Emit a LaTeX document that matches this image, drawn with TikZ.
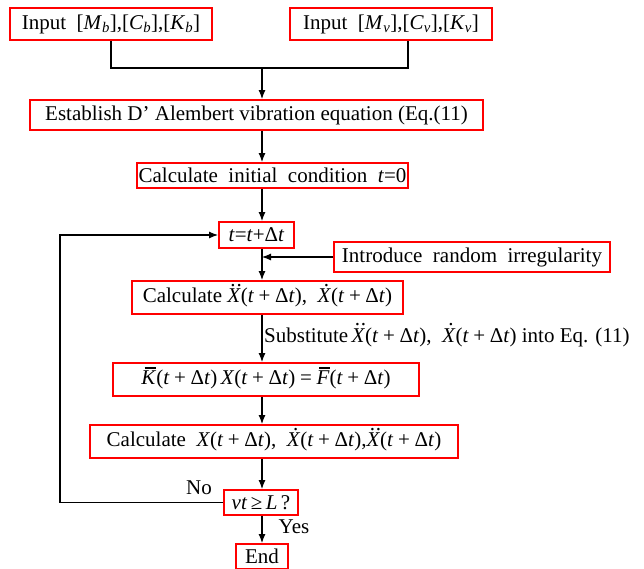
\documentclass[tikz,border=0pt]{standalone}
\usepackage{fontspec}
\setmainfont{Liberation Serif}
\usetikzlibrary{arrows.meta,positioning}
\newcommand{\vi}[1]{\textit{#1}}
\newcommand{\tdt}{(\vi{t}\kern0.22em+\kern0.22emΔ\vi{t})}
\newcommand{\markX}[1]{\ooalign{\vi{X}\cr\hidewidth\kern0.2em\raisebox{0.78em}{#1}\hidewidth\cr}}
\newcommand{\ddX}{\markX{.\kern0.04em.}}
\newcommand{\dX}{\markX{.}}
\newcommand{\barred}[1]{\ooalign{\vi{#1}\cr\hidewidth\kern0.15em\raisebox{0.76em}{\rule{0.55em}{0.06em}}\hidewidth\cr}}

\begin{document}
\begin{tikzpicture}[x=1pt, y=-1pt, >={Latex[length=9pt,width=7pt]},
  box/.style={draw=red, line width=2pt, inner sep=2pt, font=\fontsize{21}{24}\selectfont},
  lbl/.style={inner sep=1pt, font=\fontsize{21}{24}\selectfont},
  flow/.style={->, line width=1.1pt}]
	\useasboundingbox (0,0) rectangle (644,568);
	\coordinate (ax) at (262,68);
	\coordinate (ret) at (60,0);
	\node[box, minimum width=202pt, minimum height=32pt] (inb) at (111,24) {Input\ \ [\vi{M}\textsubscript{\vi{b}}],[\vi{C}\textsubscript{\vi{b}}],[\vi{K}\textsubscript{\vi{b}}]};
	\node[box, minimum width=202pt, minimum height=32pt] (inv) at (391,24) {Input\ \ [\vi{M}\textsubscript{\vi{v}}],[\vi{C}\textsubscript{\vi{v}}],[\vi{K}\textsubscript{\vi{v}}]};
	\node[box, minimum width=453pt, minimum height=30pt] (est) at (256.5,115) {Establish D' Alembert vibration equation (Eq.(11)};
	\node[box, minimum width=269pt, minimum height=25pt] (init) at (272.5,175.5) {Calculate\ \ initial\ \ condition\ \ \vi{t}=0};
	\node[box, minimum width=75pt, minimum height=26pt] (tstep) at (256.5,235) {\vi{t}=\vi{t}+Δ\vi{t}};
	\node[box, minimum width=276pt, minimum height=30pt] (irr) at (472,257) {Introduce\ \ random\ \ irregularity};
	\node[box, minimum width=271pt, minimum height=33pt] (calc1) at (267.5,297.5) {Calculate \ddX\tdt,\ \ \dX\tdt};
	\node[box, minimum width=306pt, minimum height=33pt] (keq) at (266,379.5) {\barred{K}\tdt\,\vi{X}\tdt\kern0.22em=\kern0.22em\barred{F}\tdt};
	\node[box, minimum width=368pt, minimum height=33pt] (calc2) at (274,441.5) {Calculate\ \ \vi{X}\tdt,\ \ \dX\tdt,\ddX\tdt};
	\node[box, minimum width=74pt, minimum height=25pt] (vt) at (261,502.5) {\vi{vt}\,≥\,\vi{L}\,?};
	\node[box, minimum width=52pt, minimum height=25pt] (stop) at (262,556.5) {End};
	% labels on the connectors
	\node[lbl, anchor=west] (subst) at (263,337) {Substitute\,\ddX\tdt,\ \ \dX\tdt{} into Eq. (11)};
	\node[lbl] (no) at (199,488) {No};
	\node[lbl] (yes) at (294,527) {Yes};
	% connectors
	\draw[line width=1.1pt] (inb.south) |- (ax) -| ([xshift=17pt]inv.south);
	\draw[flow] (ax) -- (est.north -| ax);
	\draw[flow] (est.south -| ax) -- (init.north -| ax);
	\draw[flow] (init.south -| ax) -- (tstep.north -| ax);
	\draw[flow] (tstep.south -| ax) -- (calc1.north -| ax);
	\draw[flow] (irr.west) -- (irr.west -| ax);
	\draw[flow] (calc1.south -| ax) -- (keq.north -| ax);
	\draw[flow] (keq.south -| ax) -- (calc2.north -| ax);
	\draw[flow] (calc2.south -| ax) -- (vt.north -| ax);
	\draw[flow] (vt.south -| ax) -- (stop.north -| ax);
	\draw[flow] (vt.west) -- (vt.west -| ret) |- (tstep.west);
\end{tikzpicture}
\end{document}
